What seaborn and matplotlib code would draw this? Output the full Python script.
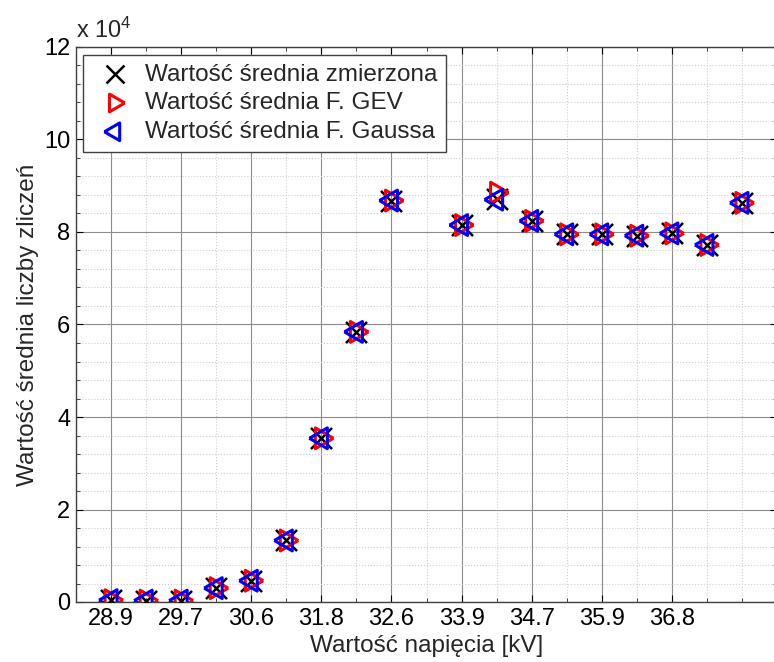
import numpy as np
import pandas as pd
import matplotlib
matplotlib.use("Agg")
import matplotlib.pyplot as plt
import seaborn as sns
from matplotlib.ticker import FixedLocator, MultipleLocator, FuncFormatter

# ---- data ----
x_index = [1, 2, 3, 4, 5, 6, 7, 8, 9, 11, 12, 13, 14, 15, 16, 17, 18, 19]
tick_positions = [1, 3, 5, 7, 9, 11, 13, 15, 17]
tick_labels = ["28.9", "29.7", "30.6", "31.8", "32.6", "33.9", "34.7", "35.9", "36.8"]
measured = [400, 300, 300, 3000, 4600, 13300, 35400, 58400, 86800,
            81500, 87200, 82400, 79500, 79500, 79200, 79700, 77200, 86300]
gev = [400, 300, 300, 3000, 4600, 13300, 35400, 58400, 86800,
       81500, 88500, 82400, 79500, 79500, 79200, 79700, 77200, 86300]
gauss = [400, 300, 300, 3000, 4600, 13300, 35400, 58400, 86800,
         81500, 87000, 82400, 79500, 79500, 79200, 79700, 77200, 86300]

label_meas = "Wartość średnia zmierzona"
label_gev = "Wartość średnia F. GEV"
label_gauss = "Wartość średnia F. Gaussa"

sns.set_style("white")
plt.rcParams["font.family"] = ["Liberation Sans", "DejaVu Sans"]
plt.rcParams["mathtext.fontset"] = "custom"
plt.rcParams["mathtext.rm"] = "Liberation Sans"
plt.rcParams["mathtext.it"] = "Liberation Sans"

FS = 17.5
TFS = 17

# equilateral triangles centred on their centroid (MATLAB-like markers)
tri_right = [(1.0, 0.0), (-0.5, 0.866), (-0.5, -0.866), (1.0, 0.0)]
tri_left = [(-1.0, 0.0), (0.5, 0.866), (0.5, -0.866), (-1.0, 0.0)]

df = pd.DataFrame({"x": x_index, "measured": measured, "gev": gev, "gauss": gauss})

fig = plt.figure(figsize=(7.74, 6.62), dpi=100)
ax = fig.add_axes([76 / 774, 60 / 662, 701 / 774, 555 / 662])

sns.scatterplot(data=df, x="x", y="measured", marker="x", s=230, color="black",
                linewidth=1.8, ax=ax, zorder=3, label=label_meas)
sns.scatterplot(data=df, x="x", y="gev", marker=tri_right, s=300, facecolors="none",
                edgecolor="#ff0000", linewidth=2.2, ax=ax, zorder=4, label=label_gev)
sns.scatterplot(data=df, x="x", y="gauss", marker=tri_left, s=300, facecolors="none",
                edgecolor="#0000ff", linewidth=2.2, ax=ax, zorder=5, label=label_gauss)

ax.set_xlim(0, 20)
ax.set_ylim(0, 120000)

ax.xaxis.set_major_locator(FixedLocator(tick_positions))
ax.set_xticklabels(tick_labels)
ax.xaxis.set_minor_locator(MultipleLocator(1))
ax.yaxis.set_major_locator(MultipleLocator(20000))
ax.yaxis.set_minor_locator(MultipleLocator(4000))
ax.yaxis.set_major_formatter(FuncFormatter(lambda v, p: f"{v / 1e4:g}"))

ax.grid(which="major", color="#8c8c8c", linewidth=0.8, linestyle="-")
ax.grid(which="minor", color="#d0d0d0", linewidth=0.8, linestyle=":")
ax.set_axisbelow(True)

ax.tick_params(axis="both", which="major", direction="in", length=5, width=0.8,
               labelsize=TFS, colors="black", pad=4)
ax.tick_params(axis="both", which="minor", direction="in", length=3, width=0.6)
ax.tick_params(axis="x", which="both", bottom=True, top=True)
ax.tick_params(axis="y", which="both", left=True, right=True)

for s in ax.spines.values():
    s.set_color("#404040")
    s.set_linewidth(1.0)

ax.set_xlabel("Wartość napięcia [kV]", fontsize=FS, labelpad=4)
ax.set_ylabel("Wartość średnia liczby zliczeń", fontsize=FS, labelpad=4)

ax.text(0.0, 1.008, r"x 10$^{4}$", transform=ax.transAxes, fontsize=TFS,
        ha="left", va="bottom")

handles, labels = ax.get_legend_handles_labels()
order = [labels.index(label_meas), labels.index(label_gev), labels.index(label_gauss)]
leg = ax.legend([handles[i] for i in order], [labels[i] for i in order],
                loc="upper left", bbox_to_anchor=(7 / 701, 1 - 8 / 555), borderaxespad=0,
                fontsize=FS, frameon=True, fancybox=False, framealpha=1,
                edgecolor="#404040", handletextpad=0.3, borderpad=0.35,
                labelspacing=0.28, handlelength=1.9, markerscale=0.85)
leg.get_frame().set_linewidth(1.0)

fig.savefig("out.png", dpi=100)
